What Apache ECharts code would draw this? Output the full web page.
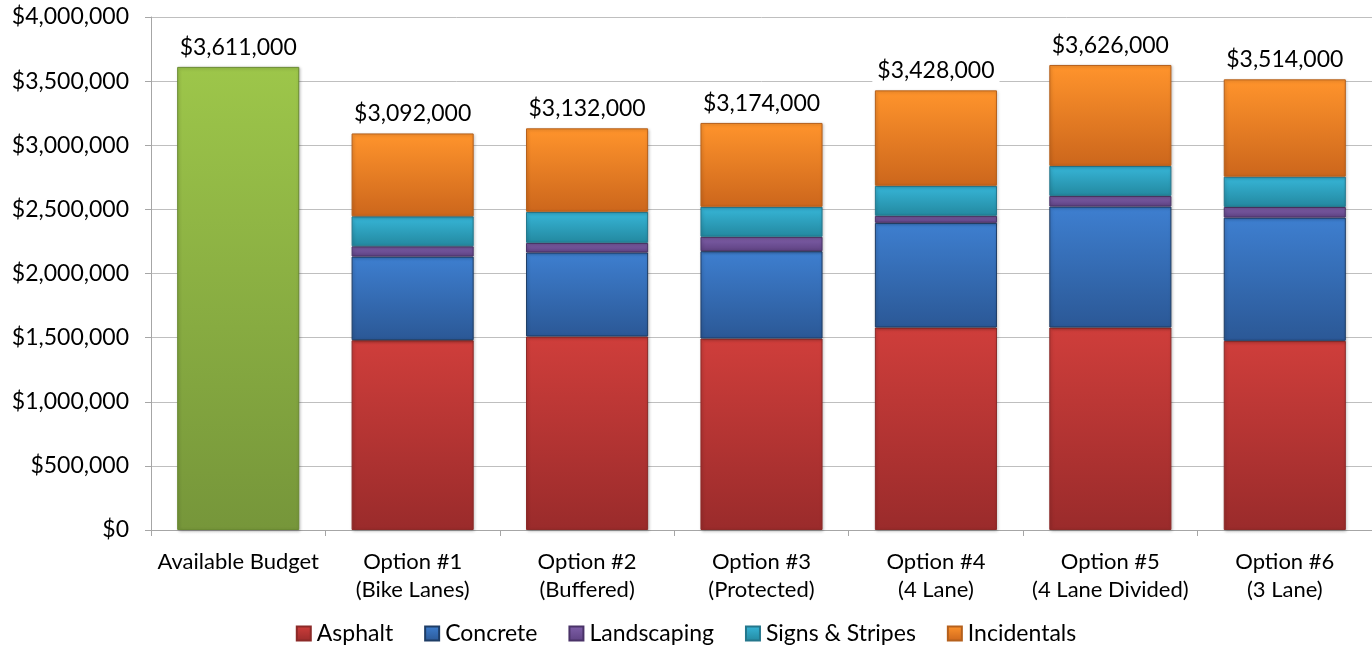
<!DOCTYPE html>
<html>
<head>
<meta charset="utf-8">
<script src="https://cdn.jsdelivr.net/npm/echarts@6/dist/echarts.min.js"></script>
<style>html,body{margin:0;padding:0;background:#fff;}#c{width:1372px;height:651px;}</style>
</head>
<body>
<div id="c"></div>
<script>
const categories = ['Available Budget', 'Option #1\n(Bike Lanes)', 'Option #2\n(Buffered)', 'Option #3\n(Protected)', 'Option #4\n(4 Lane)', 'Option #5\n(4 Lane Divided)', 'Option #6\n(3 Lane)'];
const budget      = [3611000, null, null, null, null, null, null];
const asphalt     = [null, 1480000, 1509000, 1493000, 1579000, 1579000, 1475000];
const concrete    = [null, 652000, 655000, 681000, 816000, 943000, 961000];
const landscaping = [null, 80000, 75000, 112000, 55000, 83000, 83000];
const signs       = [null, 234000, 242000, 234000, 234000, 234000, 236000];
const incidentals = [null, 646000, 651000, 654000, 744000, 787000, 759000];
const totals      = [3611000, 3092000, 3132000, 3174000, 3428000, 3626000, 3514000];

const FONT = 'Lato';
function money(v){ return '$' + Math.round(v).toLocaleString('en-US'); }
function grad(top, bottom){
  return {type:'linear', x:0, y:0, x2:0, y2:1, colorStops:[{offset:0,color:top},{offset:1,color:bottom}]};
}
const totalLabel = {
  show: true, position: 'top', distance: 8,
  fontFamily: FONT, fontSize: 23, color: '#000',
  backgroundColor: '#fff', padding: [0, 5],
  formatter: p => money(totals[p.dataIndex])
};
function ser(name, data, top, bottom, border, label){
  const s = {
    name, type: 'bar', stack: 'a', data, barWidth: '70%',
    itemStyle: {color: grad(top, bottom), borderColor: border, borderWidth: 1,
      shadowColor: 'rgba(0,0,0,0.25)', shadowBlur: 3, shadowOffsetX: 1, shadowOffsetY: 1},
    emphasis: {disabled: true}
  };
  if (label) s.label = label;
  return s;
}
const chart = echarts.init(document.getElementById('c'));
chart.setOption({
  animation: false,
  backgroundColor: '#fff',
  grid: {left: 151, right: 0, top: 17, bottom: 121, containLabel: false},
  legend: {
    bottom: 1, left: 'center',
    data: ['Asphalt', 'Concrete', 'Landscaping', 'Signs & Stripes', 'Incidentals'],
    itemWidth: 14, itemHeight: 14, itemGap: 31,
    textStyle: {fontFamily: FONT, fontSize: 23, color: '#000', padding: [0, 0, 0, 1]},
    icon: 'rect'
  },
  xAxis: {
    type: 'category', data: categories,
    axisLine: {lineStyle: {color: '#a6a6a6'}},
    axisTick: {show: true, length: 6, lineStyle: {color: '#a6a6a6'}},
    axisLabel: {fontFamily: FONT, fontSize: 22, color: '#000', margin: 18, lineHeight: 28, interval: 0}
  },
  yAxis: {
    type: 'value', min: 0, max: 4000000, interval: 500000,
    axisLine: {show: true, lineStyle: {color: '#a6a6a6'}},
    axisTick: {show: true, length: 6, lineStyle: {color: '#a6a6a6'}},
    splitLine: {lineStyle: {color: '#bfbfbf'}},
    axisLabel: {fontFamily: FONT, fontSize: 23, color: '#000', margin: 22, formatter: v => money(v)}
  },
  series: [
    ser('Available Budget', budget, '#9dc64a', '#76963a', '#6a8a32', totalLabel),
    ser('Asphalt', asphalt, '#cf3e3b', '#9a2b2b', '#8c2a28'),
    ser('Concrete', concrete, '#3e7fd0', '#2b5896', '#1e3d66'),
    ser('Landscaping', landscaping, '#8060aa', '#5e4282', '#4a3368'),
    ser('Signs & Stripes', signs, '#37b6d8', '#23889f', '#24778c'),
    ser('Incidentals', incidentals, '#ff942c', '#cc661c', '#b5601c', totalLabel)
  ]
});
</script>
</body>
</html>
